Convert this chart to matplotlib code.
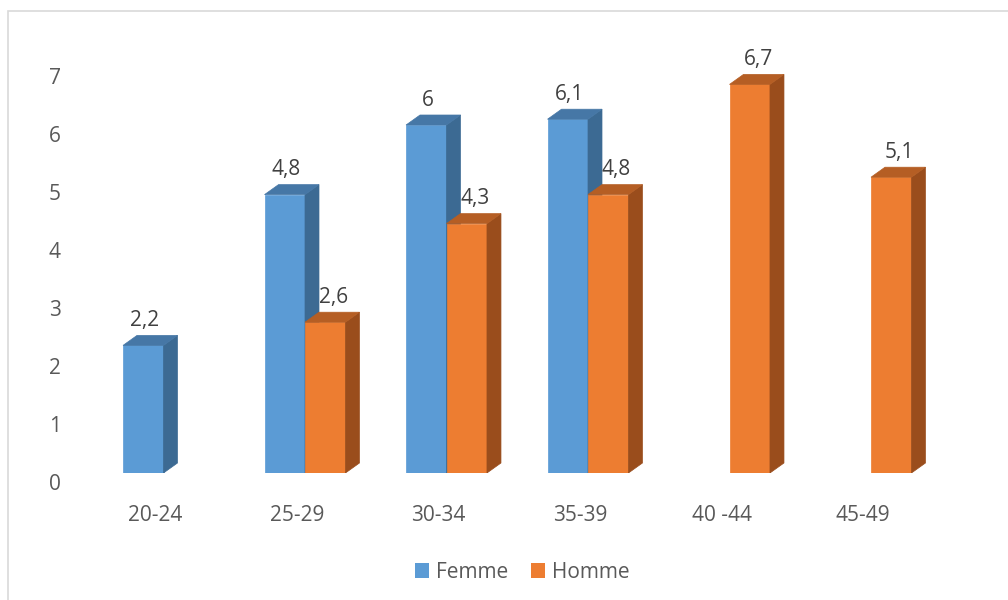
import numpy as np
import matplotlib.pyplot as plt
from matplotlib.patches import Polygon, Rectangle, Patch
from matplotlib.transforms import ScaledTranslation

plt.rcParams['font.family'] = ['Open Sans', 'DejaVu Sans']

# data
categories = ["20-24", "25-29", "30-34", "35-39", "40 -44", "45-49"]
femme = [2.2, 4.8, 6.0, 6.1, None, None]
homme = [None, 2.6, 4.3, 4.8, 6.7, 5.1]
femme_labels = ["2,2", "4,8", "6", "6,1", "", ""]
homme_labels = ["", "2,6", "4,3", "4,8", "6,7", "5,1"]

W, H = 1008, 600
fig = plt.figure(figsize=(W / 100, H / 100), dpi=100)
ax = fig.add_axes([92.75 / W, 1 - 473 / H, 849 / W, 406 / H])
ax.set_xlim(-0.5, 5.5)
ax.set_ylim(0, 7)

# pixel -> data units for the fake 3d depth
px_x = 6 / 849
px_y = 7 / 406
dx, dy = 14 * px_x, 10 * px_y
bw = 0.286

series = [
    (femme, femme_labels, -bw, "#5B9BD5", "#3C6A93", "#4677A6", 1),
    (homme, homme_labels, 0.0, "#ED7D31", "#9A4D1C", "#B55E24", 6),
]

for vals, labs, off, front, side, top, lx in series:
    for i, v in enumerate(vals):
        if v is None:
            continue
        x0 = i + off
        x1 = x0 + bw
        ax.add_patch(Rectangle((x0, 0), bw, v, facecolor=front,
                               edgecolor=front, lw=0.5, zorder=2))
        ax.add_patch(Polygon([(x1, 0), (x1 + dx, dy), (x1 + dx, v + dy), (x1, v)],
                             closed=True, facecolor=side, edgecolor=side,
                             lw=0.5, zorder=2))
        ax.add_patch(Polygon([(x0, v), (x0 + dx, v + dy), (x1 + dx, v + dy), (x1, v)],
                             closed=True, facecolor=top, edgecolor=top,
                             lw=0.5, zorder=2))
        ax.annotate(labs[i], (x0 + bw / 2, v), xytext=(lx, 18),
                    textcoords="offset points", ha="center", va="center",
                    fontsize=15, color="#404040", annotation_clip=False)

ax.set_xticks(range(len(categories)))
ax.set_xticklabels(categories)
ax.set_yticks(range(0, 8))
ax.tick_params(axis="both", length=0, labelsize=15, labelcolor="#595959")
ax.tick_params(axis="y", pad=23)
ax.tick_params(axis="x", pad=23)
for t in ax.get_yticklabels():
    t.set_transform(t.get_transform() + ScaledTranslation(0, -9 / 100, fig.dpi_scale_trans))
for t in ax.get_xticklabels():
    t.set_transform(t.get_transform() + ScaledTranslation(-8 / 100, 0, fig.dpi_scale_trans))
for s in ax.spines.values():
    s.set_visible(False)

handles = [Patch(facecolor="#5B9BD5", label="Femme"),
           Patch(facecolor="#ED7D31", label="Homme")]
leg = fig.legend(handles=handles, loc="center", ncol=2, frameon=False,
                 bbox_to_anchor=(522 / W, 1 - 572 / H), fontsize=15,
                 handlelength=0.7, handleheight=0.7, handletextpad=0.3,
                 columnspacing=1.1)
for t in leg.get_texts():
    t.set_color("#595959")

# chart border
fig.patches.append(Rectangle((8 / W, -0.1), 1.2, 1.1 - 11 / H, transform=fig.transFigure,
                             fill=False, edgecolor="#D9D9D9", lw=1.2))

fig.savefig("out.png", dpi=100)
